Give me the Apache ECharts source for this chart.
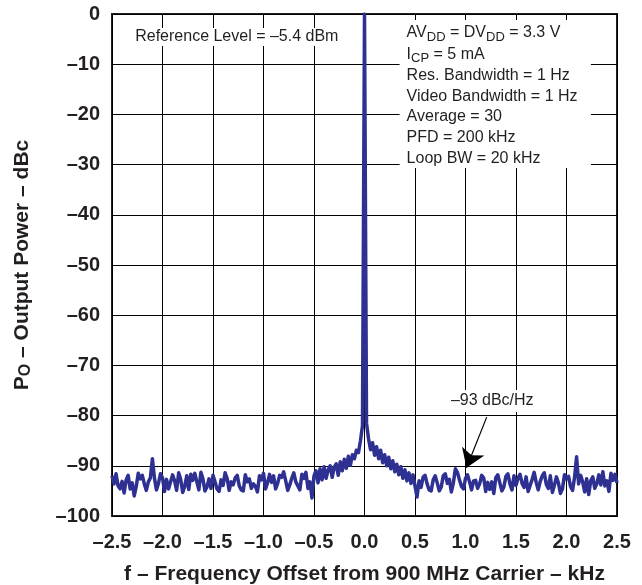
<!DOCTYPE html>
<html>
<head>
<meta charset="utf-8">
<script src="https://cdn.jsdelivr.net/npm/echarts@6/dist/echarts.min.js"></script>
<style>
html,body{margin:0;padding:0;background:#fff;}
#chart{width:642px;height:585px;}
</style>
</head>
<body>
<div id="chart"></div>
<script>
// ---- data ----
const freqStart = -2.5;      // kHz
const freqStep = 0.02;       // kHz per trace point
const powerDbc = [
  -92.0,-93.6,-91.6,-94.0,-94.6,-93.1,-95.4,-92.8,-91.9,-94.6,
  -93.4,-96.0,-94.1,-91.5,-92.6,-91.9,-93.6,-94.9,-93.2,-92.4,
  -88.6,-92.4,-94.8,-93.5,-91.6,-92.4,-95.1,-92.7,-94.6,-93.2,
  -91.8,-93.0,-94.9,-91.4,-92.7,-95.3,-94.1,-92.0,-94.7,-91.7,
  -92.9,-91.5,-93.2,-94.8,-91.3,-92.6,-95.0,-94.2,-92.6,-94.5,
  -91.9,-93.2,-94.6,-95.1,-92.8,-93.9,-91.4,-92.5,-94.9,-93.2,
  -93.8,-92.4,-91.9,-94.0,-94.8,-95.0,-91.8,-93.2,-92.6,-94.5,
  -93.6,-94.1,-95.2,-92.0,-92.8,-91.5,-94.6,-93.4,-91.7,-93.3,
  -92.0,-94.6,-93.5,-91.9,-92.3,-91.2,-93.0,-94.9,-93.8,-92.5,
  -91.4,-93.2,-94.0,-94.8,-91.7,-92.5,-91.3,-94.5,-93.2,-96.4,
  -92.0,-91.0,-93.4,-90.6,-92.8,-90.2,-92.5,-90.8,-90.0,-92.3,
  -90.3,-89.6,-91.9,-89.2,-91.0,-88.7,-90.5,-88.1,-89.9,-87.8,
  -88.6,-86.9,-87.4,-85.0,-82.0,
  0,
  -81.5,-84.6,-86.8,-85.4,-87.9,
  -86.2,-88.6,-86.9,-89.4,-87.8,-90.0,-88.3,-90.6,-89.0,-91.2,
  -89.7,-91.8,-90.2,-92.5,-90.8,-93.0,-91.4,-93.5,-91.8,-94.0,
  -96.2,-93.0,-94.3,-92.3,-91.9,-93.6,-94.8,-95.0,-92.8,-92.0,
  -93.4,-95.0,-94.2,-92.0,-91.6,-93.5,-92.7,-95.2,-93.4,-90.6,
  -91.3,-92.8,-94.1,-94.6,-92.5,-91.8,-93.2,-94.8,-93.0,-92.9,
  -94.5,-93.6,-91.9,-92.4,-95.1,-93.3,-94.7,-93.2,-95.5,-92.4,
  -91.8,-93.4,-95.0,-94.2,-92.1,-91.6,-93.6,-94.8,-92.0,-93.9,
  -92.5,-91.7,-93.5,-94.3,-92.2,-95.1,-93.9,-92.7,-91.3,-93.3,
  -94.8,-93.1,-92.0,-91.4,-93.7,-94.5,-92.0,-95.3,-93.9,-92.2,
  -93.4,-95.5,-94.6,-91.8,-92.6,-92.1,-94.1,-94.9,-92.3,-88.2,
  -93.6,-91.9,-93.2,-95.2,-92.6,-95.7,-93.0,-92.2,-94.5,-93.6,
  -91.8,-93.8,-91.2,-94.0,-93.0,-95.1,-91.5,-92.9,-91.7,-93.4
];
const xMin = -2.5, xMax = 2.5, xInterval = 0.5;
const yMin = -100, yMax = 0, yInterval = 10;
const xTitle = 'f \u2013 Frequency Offset from 900 MHz Carrier \u2013 kHz';
const yTitle = 'P{s|O} \u2013 Output Power \u2013 dBc';
const refLevelText = 'Reference Level = \u20135.4 dBm';
const conditionLines = [
  'AV{s|DD} = DV{s|DD} = 3.3 V',
  'I{s|CP} = 5 mA',
  'Res. Bandwidth = 1 Hz',
  'Video Bandwidth = 1 Hz',
  'Average = 30',
  'PFD = 200 kHz',
  'Loop BW = 20 kHz'
];
const floorLabel = '\u201393 dBc/Hz';

// annotation anchors in data units
const refLevelAnchor = [-2.29, -4.6];
const condBoxFrom = [0.347, -1.2], condBoxTo = [2.242, -30.7];
const condTextX = 0.417, condLineY = [-3.8, -8.0, -12.2, -16.4, -20.5, -24.7, -28.9];
const floorLabelAnchor = [1.265, -77.1];
const arrowFrom = [1.21, -80.3], arrowTo = [1.01, -90.4];

const series = powerDbc.map((p, i) => [+(freqStart + i * freqStep).toFixed(3), p]);

const FONT = '"Liberation Sans", Arial, Helvetica, sans-serif';
const INK = '#231f20';
const dash = v => String(v).replace('-', '\u2013');

const chart = echarts.init(document.getElementById('chart'), null, {renderer: 'canvas'});
chart.setOption({
  animation: false,
  backgroundColor: '#fff',
  grid: {left: 112, right: 25, top: 14, bottom: 69, containLabel: false, outerBoundsMode: 'none',
    show: true, borderColor: INK, borderWidth: 2, backgroundColor: 'transparent'},
  xAxis: {
    type: 'value', min: xMin, max: xMax, interval: xInterval,
    axisLine: {show: false}, axisTick: {show: false},
    splitLine: {show: true, lineStyle: {color: '#000', width: 1}},
    axisLabel: {formatter: v => dash(v.toFixed(1)), fontFamily: FONT, fontWeight: 'bold', fontSize: 20, color: INK, margin: 16},
    name: xTitle, nameLocation: 'middle', nameGap: 48,
    nameTextStyle: {fontFamily: FONT, fontWeight: 'bold', fontSize: 21, color: INK}
  },
  yAxis: {
    type: 'value', min: yMin, max: yMax, interval: yInterval,
    axisLine: {show: false}, axisTick: {show: false},
    splitLine: {show: true, lineStyle: {color: '#000', width: 1}},
    axisLabel: {formatter: v => dash(v), fontFamily: FONT, fontWeight: 'bold', fontSize: 20, color: INK, margin: 12},
    name: yTitle, nameLocation: 'middle', nameGap: 78, nameRotate: 90,
    nameTextStyle: {fontFamily: FONT, fontWeight: 'bold', fontSize: 21, color: INK,
      rich: {s: {fontFamily: FONT, fontWeight: 'bold', fontSize: 16, color: INK, padding: [8, 0, 0, 0]}}}
  },
  series: [{
    type: 'line', data: series, showSymbol: false, symbol: 'none', z: 5,
    lineStyle: {color: '#2e3192', width: 3.5, join: 'round'},
    emphasis: {disabled: true},
    markLine: {
      silent: true, symbol: ['none', 'arrow'], symbolSize: 18,
      lineStyle: {color: '#000', width: 1.2, type: 'solid'},
      label: {show: false},
      emphasis: {disabled: true},
      data: [[{coord: arrowFrom}, {coord: arrowTo}]]
    }
  }]
});

const px = p => chart.convertToPixel({gridIndex: 0}, p);
const baseText = {fontFamily: FONT, fontSize: 16, fill: INK};
const subRich = {s: {fontFamily: FONT, fontSize: 13, fill: INK, padding: [8, 0, 0, 0]}};
const g = [];
const r0 = px(refLevelAnchor);
g.push({type: 'text', x: r0[0], y: r0[1], z: 10, style: Object.assign({}, baseText, {
  text: refLevelText, align: 'left', verticalAlign: 'middle', backgroundColor: '#fff', padding: [1, 2]})});
const b1 = px(condBoxFrom), b2 = px(condBoxTo);
g.push({type: 'rect', z: 9, shape: {x: b1[0], y: b1[1], width: b2[0] - b1[0], height: b2[1] - b1[1]}, style: {fill: '#fff'}});
conditionLines.forEach((t, i) => {
  const p = px([condTextX, condLineY[i]]);
  g.push({type: 'text', x: p[0], y: p[1], z: 10, style: Object.assign({}, baseText, {
    text: t, rich: subRich, align: 'left', verticalAlign: 'middle'})});
});
const f0 = px(floorLabelAnchor);
g.push({type: 'text', x: f0[0], y: f0[1], z: 10, style: Object.assign({}, baseText, {
  text: floorLabel, align: 'center', verticalAlign: 'middle', backgroundColor: '#fff', padding: [3, 3]})});
chart.setOption({graphic: g});
</script>
</body>
</html>
